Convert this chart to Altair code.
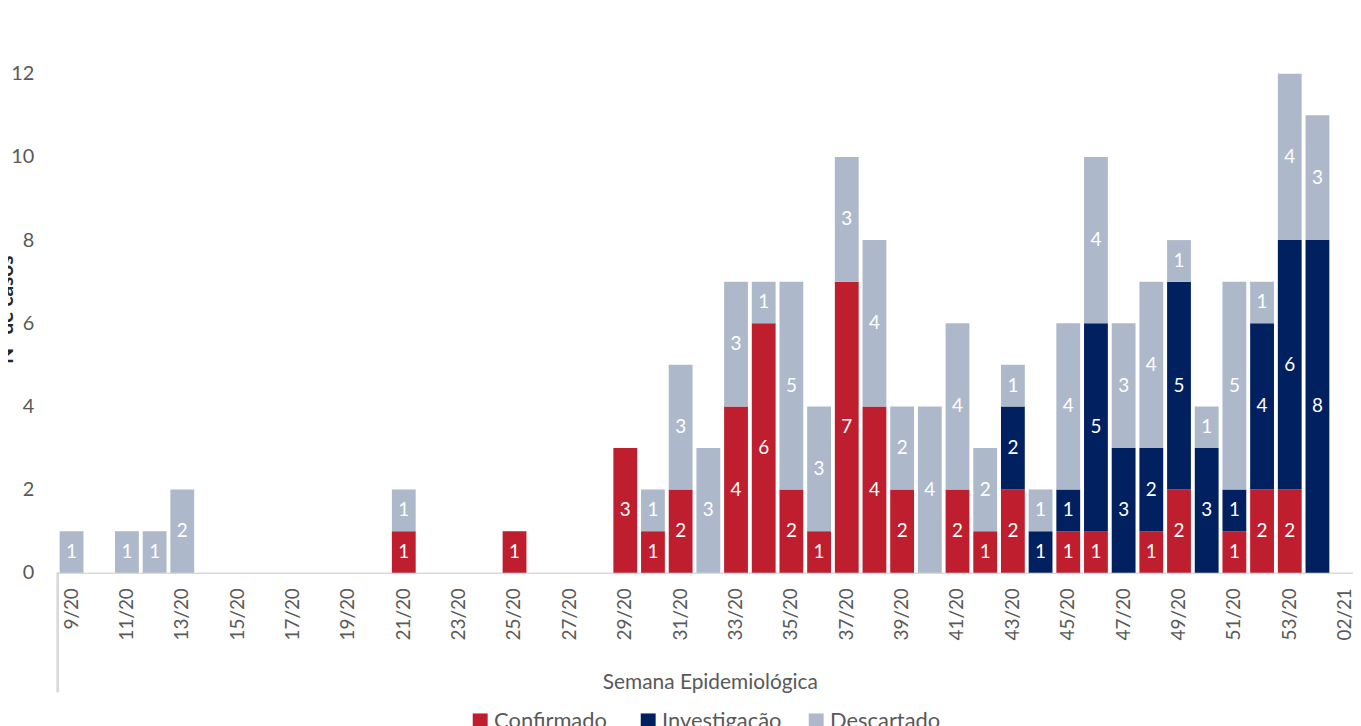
import altair as alt
import pandas as pd

weeks = [
    "9/20", "10/20", "11/20", "12/20", "13/20", "14/20", "15/20", "16/20",
    "17/20", "18/20", "19/20", "20/20", "21/20", "22/20", "23/20", "24/20",
    "25/20", "26/20", "27/20", "28/20", "29/20", "30/20", "31/20", "32/20",
    "33/20", "34/20", "35/20", "36/20", "37/20", "38/20", "39/20", "40/20",
    "41/20", "42/20", "43/20", "44/20", "45/20", "46/20", "47/20", "48/20",
    "49/20", "50/20", "51/20", "52/20", "53/20", "01/21", "02/21",
]
tick_labels = [
    "9/20", "11/20", "13/20", "15/20", "17/20", "19/20", "21/20", "23/20",
    "25/20", "27/20", "29/20", "31/20", "33/20", "35/20", "37/20", "39/20",
    "41/20", "43/20", "45/20", "47/20", "49/20", "51/20", "53/20", "02/21",
]
confirmado = [0, 0, 0, 0, 0, 0, 0, 0, 0, 0, 0, 0, 1, 0, 0, 0, 1, 0, 0, 0,
              3, 1, 2, 0, 4, 6, 2, 1, 7, 4, 2, 0, 2, 1, 2, 0, 1, 1, 0, 1,
              2, 0, 1, 2, 2, 0, 0]
investigacao = [0, 0, 0, 0, 0, 0, 0, 0, 0, 0, 0, 0, 0, 0, 0, 0, 0, 0, 0, 0,
                0, 0, 0, 0, 0, 0, 0, 0, 0, 0, 0, 0, 0, 0, 2, 1, 1, 5, 3, 2,
                5, 3, 1, 4, 6, 8, 0]
descartado = [1, 0, 1, 1, 2, 0, 0, 0, 0, 0, 0, 0, 1, 0, 0, 0, 0, 0, 0, 0,
              0, 1, 3, 3, 3, 1, 5, 3, 3, 4, 2, 4, 4, 2, 1, 1, 4, 4, 3, 4,
              1, 1, 5, 1, 4, 3, 0]
series_names = ["Confirmado", "Investigação", "Descartado"]
series_colors = ["#BE1E2D", "#002060", "#ADB9CA"]
y_ticks = [0, 2, 4, 6, 8, 10, 12]

rows = []
for i, w in enumerate(weeks):
    for k, (name, vals) in enumerate(zip(series_names, [confirmado, investigacao, descartado])):
        rows.append({"week": w, "serie": name, "value": vals[i], "ord": k})
df = pd.DataFrame(rows)

FONT = "Lato"
GRAY = "#595959"
W, H = 1303, 502

x_scale = alt.Scale(domain=weeks, range=[0, 1309], paddingInner=0.14, paddingOuter=0.07)
y_scale = alt.Scale(domain=[0, 12], nice=False)

x_axis = alt.Axis(
    values=tick_labels, labelAngle=-90, labelFontSize=19, labelFont=FONT,
    labelColor=GRAY, ticks=False, tickSize=0, labelPadding=15,
    domainColor="#D9D9D9", domainWidth=1.5,
    title="Semana Epidemiológica", titleFont=FONT, titleFontSize=21,
    titleFontWeight="normal", titleColor=GRAY, titleX=656, titleY=110,
    titleBaseline="middle", titleAlign="center",
)
y_axis = alt.Axis(
    values=y_ticks, grid=False, domain=False, ticks=False, tickSize=0,
    labelFontSize=20, labelFont=FONT, labelColor=GRAY, labelPadding=24,
    title="Nº de casos", titleFont=FONT, titleFontSize=21, titleFontWeight="bold",
    titleColor="#262626", titleAngle=-90, titleX=-45, titleY=237,
    titleBaseline="alphabetic", titleAlign="center",
)

bars = alt.Chart(df).mark_bar().encode(
    x=alt.X("week:N", scale=x_scale, axis=x_axis),
    y=alt.Y("value:Q", stack="zero", scale=y_scale, axis=y_axis),
    color=alt.Color(
        "serie:N",
        scale=alt.Scale(domain=series_names, range=series_colors),
        legend=alt.Legend(
            title=None, orient="none", legendX=414, legendY=640,
            direction="horizontal", symbolType="square", symbolSize=225,
            symbolStrokeWidth=0, labelFontSize=22, labelFont=FONT,
            labelColor=GRAY, columnPadding=23, labelOffset=3,
            gridAlign="all",
        ),
    ),
    order=alt.Order("ord:Q", sort="ascending"),
)

labels = alt.Chart(df).transform_filter("datum.value > 0").transform_stack(
    stack="value", groupby=["week"], as_=["y0", "y1"],
    sort=[alt.SortField("ord", order="ascending")],
).transform_calculate(mid="(datum.y0 + datum.y1) / 2").mark_text(
    color="white", fontSize=19, font=FONT, baseline="middle", align="center",
).encode(
    x=alt.X("week:N", scale=x_scale),
    y=alt.Y("mid:Q", scale=y_scale),
    text=alt.Text("value:Q"),
)

vline = alt.Chart(df).mark_rule(color="#D9D9D9", strokeWidth=1.5).encode(
    x=alt.value(0), y=alt.value(H), y2=alt.value(H + 120),
)

chart = alt.layer(bars, labels, vline).properties(
    width=W, height=H,
    autosize=alt.AutoSizeParams(type="none"),
    padding={"left": 50, "top": 64, "right": 0, "bottom": 152},
    background="white",
).configure_view(stroke=None)

chart.save("out.html", embed_options={"renderer": "svg", "actions": False})
